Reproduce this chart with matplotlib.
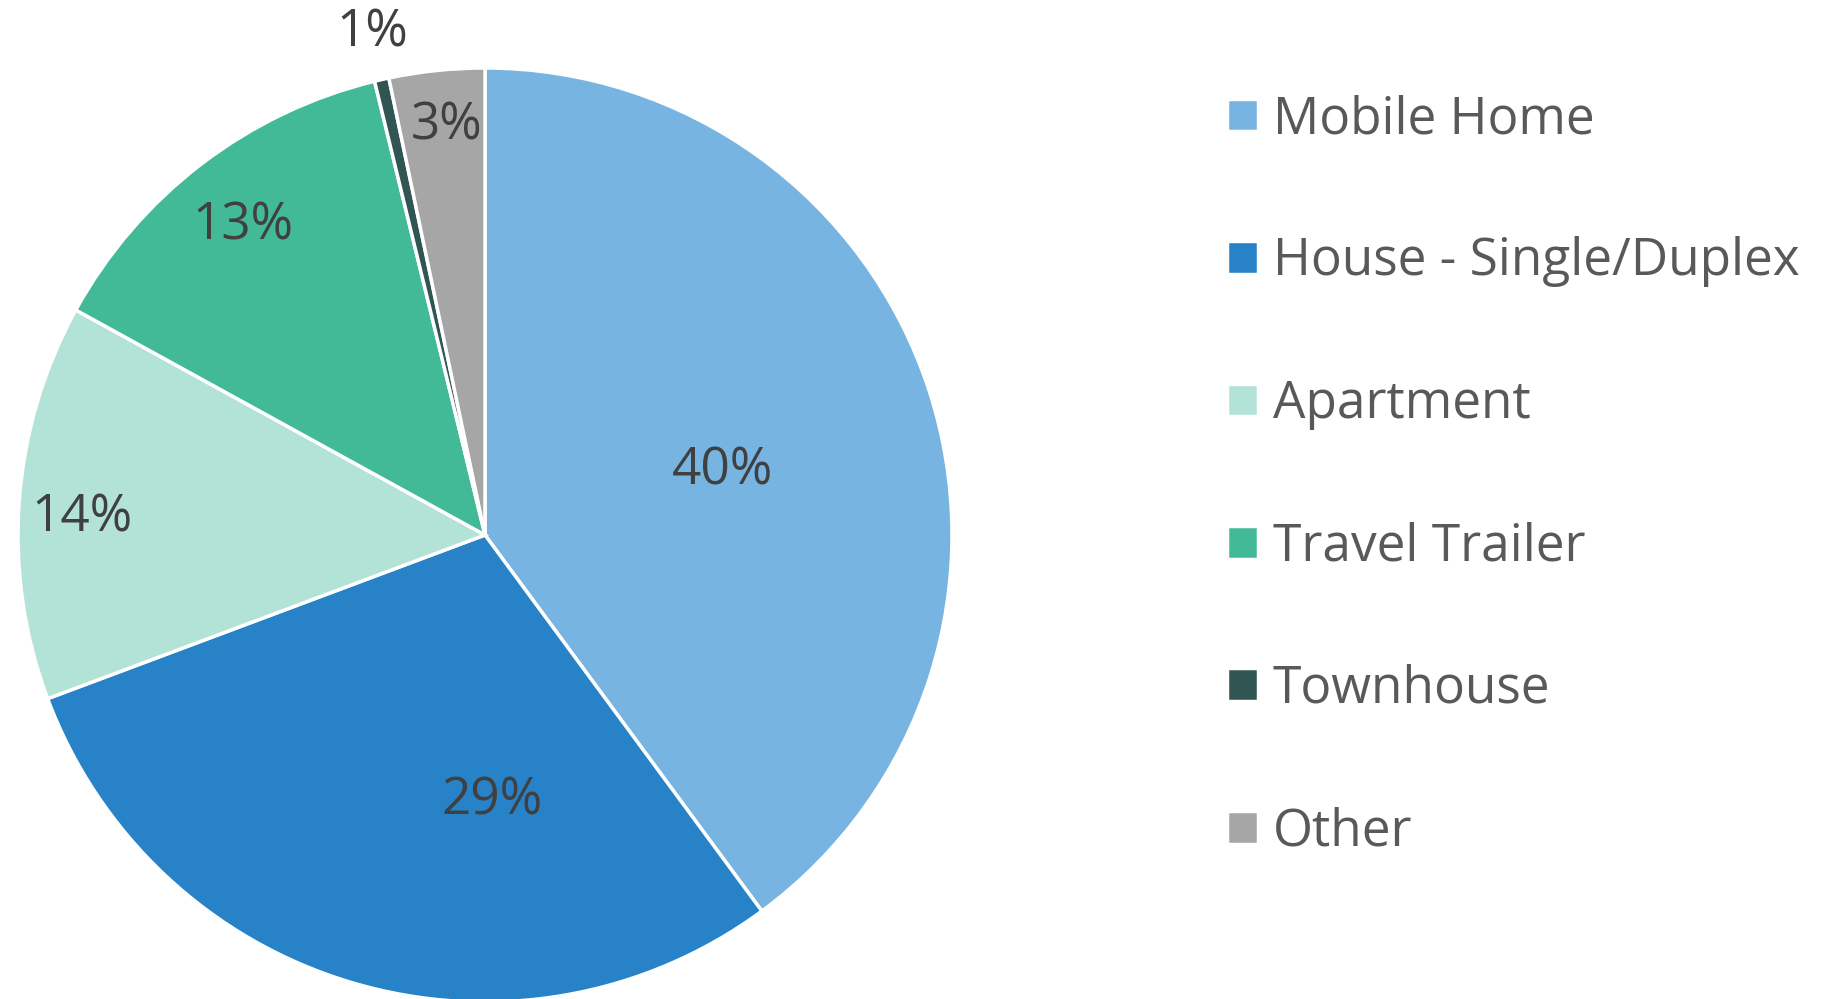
import matplotlib
matplotlib.use("Agg")
import matplotlib.pyplot as plt

# Data
categories = ["Mobile Home", "House - Single/Duplex", "Apartment",
              "Travel Trailer", "Townhouse", "Other"]
shares = [39.9, 29.4, 13.7, 13.2, 0.5, 3.3]
pct_labels = ["40%", "29%", "14%", "13%", "1%", "3%"]
colors = ["#77B4E2", "#2782C7", "#B3E3D6", "#43BA97", "#305552", "#A6A6A6"]

# label positions (pie radius units), as placed in the original
label_pos = [(0.508, 0.137), (0.015, -0.570), (-0.8625, 0.037),
             (-0.5175, 0.662), (-0.2425, 1.075), (-0.0825, 0.875)]

plt.rcParams['font.family'] = ['Open Sans', 'DejaVu Sans']

fig = plt.figure(figsize=(18.32, 9.99), dpi=100)
W, H = 1832, 999
cx, cy, r = 485, 535, 467
ax = fig.add_axes([(cx - r) / W, (H - cy - r) / H, 2 * r / W, 2 * r / H])

wedges, _ = ax.pie(shares, colors=colors, startangle=90, counterclock=False,
                   radius=1, wedgeprops=dict(edgecolor="white", linewidth=2.5))
ax.set_xlim(-1, 1)
ax.set_ylim(-1, 1)
ax.set_aspect("equal")
ax.axis("off")

for txt, (x, y) in zip(pct_labels, label_pos):
    ax.text(x, y, txt, ha="center", va="center", fontsize=37, color="#404040")

fig.legend(wedges, categories, loc="upper left",
           bbox_to_anchor=(1227 / W, 1 - 94 / H), frameon=False,
           borderaxespad=0, borderpad=0,
           fontsize=37, labelcolor="#595959", handlelength=0.6,
           handleheight=0.6, handletextpad=0.29, labelspacing=1.78)

fig.savefig("out.png", dpi=100)
